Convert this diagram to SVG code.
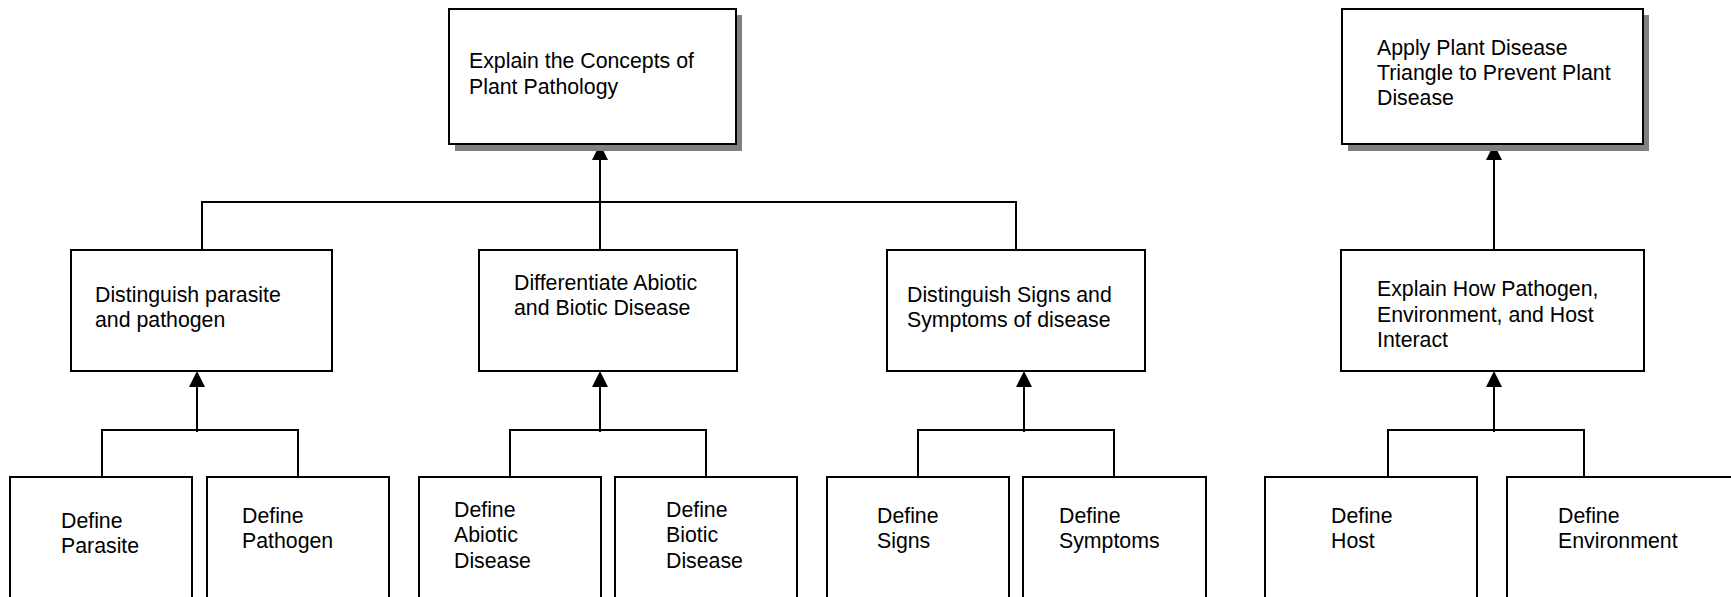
<svg xmlns="http://www.w3.org/2000/svg" xmlns:xlink="http://www.w3.org/1999/xlink" width="1731" height="597" viewBox="0 0 1731 597">
<style>
.box{fill:#fff;stroke:#000;stroke-width:2}
.shadow{fill:#808080}
.t{font-family:"Liberation Sans",Arial,sans-serif;font-size:21.3px;fill:#000}
.c{fill:none;stroke:#000;stroke-width:2}
.ah{fill:#000}
</style>
<defs>
<path id="arrow" d="M-8,16 L0,0 L8,16 Z"/>
</defs>
<rect width="1731" height="597" fill="#fff"/>
<g id="connectors">
<path class="c" d="M600,250 V155"/>
<use href="#arrow" xlink:href="#arrow" class="ah" x="600" y="144"/>
<path class="c" d="M202,250 V202 H1016 V250"/>
<path class="c" d="M1494,250 V155"/>
<use href="#arrow" xlink:href="#arrow" class="ah" x="1494" y="144"/>
<path class="c" d="M197,432 V382"/>
<use href="#arrow" xlink:href="#arrow" class="ah" x="197" y="371"/>
<path class="c" d="M102,477 V430 H298 V477"/>
<path class="c" d="M600,432 V382"/>
<use href="#arrow" xlink:href="#arrow" class="ah" x="600" y="371"/>
<path class="c" d="M510,477 V430 H706 V477"/>
<path class="c" d="M1024,432 V382"/>
<use href="#arrow" xlink:href="#arrow" class="ah" x="1024" y="371"/>
<path class="c" d="M918,477 V430 H1114 V477"/>
<path class="c" d="M1494,432 V382"/>
<use href="#arrow" xlink:href="#arrow" class="ah" x="1494" y="371"/>
<path class="c" d="M1388,477 V430 H1584 V477"/>
</g>
<g id="n_concepts">
<rect class="shadow" x="455" y="15" width="287" height="136"/>
<rect class="box" x="449" y="9" width="287" height="135"/>
<text class="t" x="469" y="68">Explain the Concepts of</text>
<text class="t" x="469" y="94">Plant Pathology</text>
</g>
<g id="n_triangle">
<rect class="shadow" x="1348" y="15" width="301" height="136"/>
<rect class="box" x="1342" y="9" width="301" height="135"/>
<text class="t" x="1377" y="55">Apply Plant Disease</text>
<text class="t" x="1377" y="80">Triangle to Prevent Plant</text>
<text class="t" x="1377" y="105">Disease</text>
</g>
<g id="n_parasite_pathogen">
<rect class="box" x="71" y="250" width="261" height="121"/>
<text class="t" x="95" y="302">Distinguish parasite</text>
<text class="t" x="95" y="327">and pathogen</text>
</g>
<g id="n_abiotic_biotic">
<rect class="box" x="479" y="250" width="258" height="121"/>
<text class="t" x="514" y="290">Differentiate Abiotic</text>
<text class="t" x="514" y="315">and Biotic Disease</text>
</g>
<g id="n_signs_symptoms">
<rect class="box" x="887" y="250" width="258" height="121"/>
<text class="t" x="907" y="302">Distinguish Signs and</text>
<text class="t" x="907" y="327">Symptoms of disease</text>
</g>
<g id="n_interact">
<rect class="box" x="1341" y="250" width="303" height="121"/>
<text class="t" x="1377" y="296">Explain How Pathogen,</text>
<text class="t" x="1377" y="322">Environment, and Host</text>
<text class="t" x="1377" y="347">Interact</text>
</g>
<g id="n_parasite">
<rect class="box" x="10" y="477" width="182" height="140"/>
<text class="t" x="61" y="528">Define</text>
<text class="t" x="61" y="553">Parasite</text>
</g>
<g id="n_pathogen">
<rect class="box" x="207" y="477" width="182" height="140"/>
<text class="t" x="242" y="523">Define</text>
<text class="t" x="242" y="548">Pathogen</text>
</g>
<g id="n_abiotic">
<rect class="box" x="419" y="477" width="182" height="140"/>
<text class="t" x="454" y="517">Define</text>
<text class="t" x="454" y="542">Abiotic</text>
<text class="t" x="454" y="568">Disease</text>
</g>
<g id="n_biotic">
<rect class="box" x="615" y="477" width="182" height="140"/>
<text class="t" x="666" y="517">Define</text>
<text class="t" x="666" y="542">Biotic</text>
<text class="t" x="666" y="568">Disease</text>
</g>
<g id="n_signs">
<rect class="box" x="827" y="477" width="182" height="140"/>
<text class="t" x="877" y="523">Define</text>
<text class="t" x="877" y="548">Signs</text>
</g>
<g id="n_symptoms">
<rect class="box" x="1023" y="477" width="183" height="140"/>
<text class="t" x="1059" y="523">Define</text>
<text class="t" x="1059" y="548">Symptoms</text>
</g>
<g id="n_host">
<rect class="box" x="1265" y="477" width="212" height="140"/>
<text class="t" x="1331" y="523">Define</text>
<text class="t" x="1331" y="548">Host</text>
</g>
<g id="n_environment">
<rect class="box" x="1507" y="477" width="240" height="140"/>
<text class="t" x="1558" y="523">Define</text>
<text class="t" x="1558" y="548">Environment</text>
</g>
</svg>
